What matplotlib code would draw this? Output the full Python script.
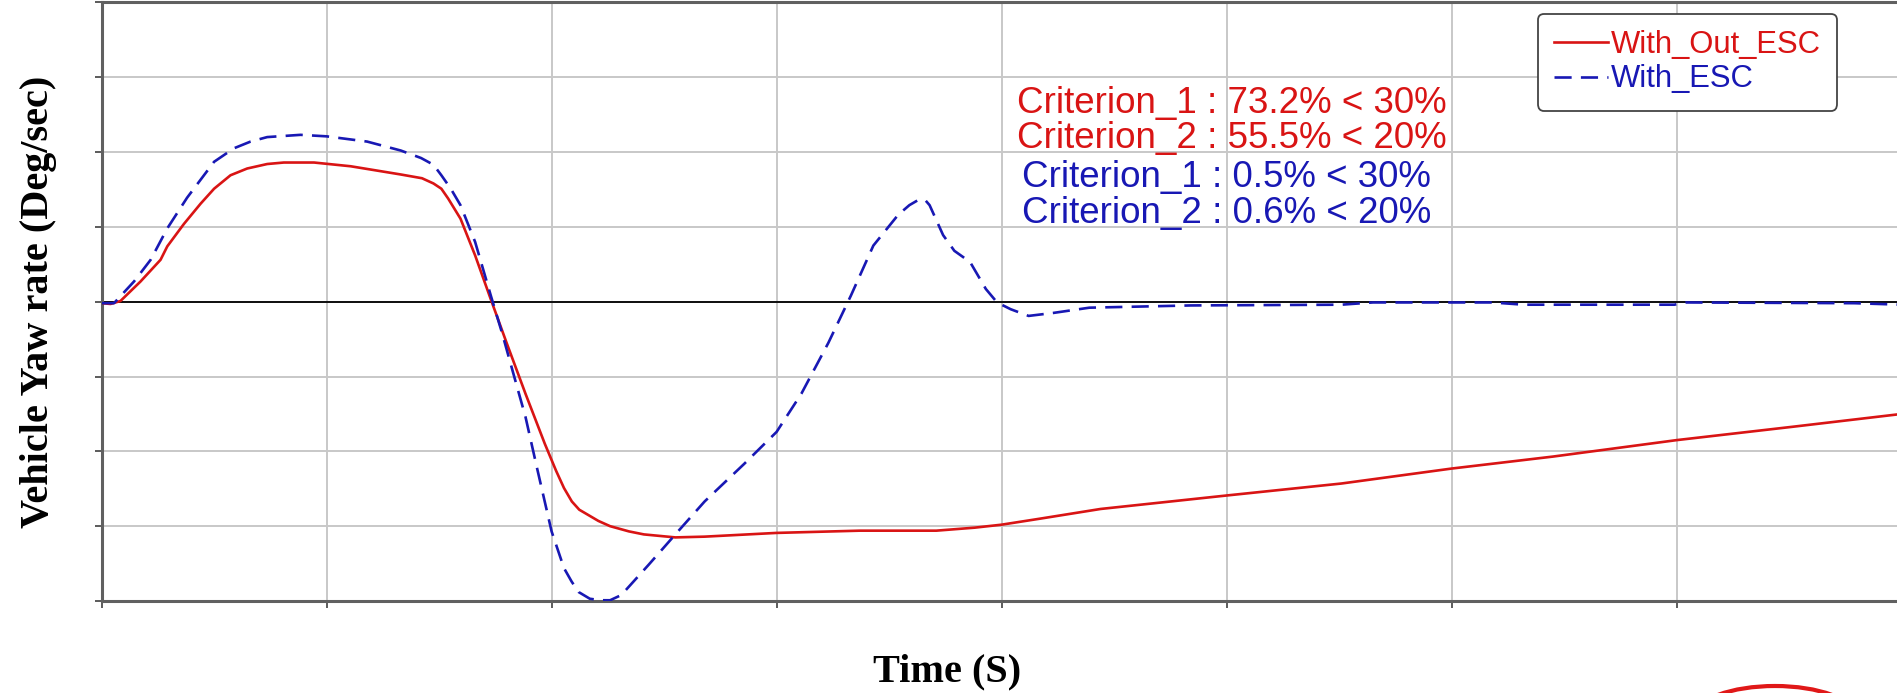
"""
Vehicle yaw rate response, with and without ESC.
Recreated as a static matplotlib figure.
"""
import matplotlib
matplotlib.use("Agg")
import matplotlib.pyplot as plt
from matplotlib.patches import Ellipse
from matplotlib.transforms import IdentityTransform

# ── Data ──────────────────────────────────────────────────────────────────
t_no_esc = [0, 0.04, 0.084, 0.173, 0.262, 0.292, 0.366, 0.44, 0.50, 0.573,
            0.647, 0.736, 0.81, 0.944, 1.107, 1.33, 1.424, 1.475, 1.51, 1.54,
            1.595, 1.66, 1.73, 1.80, 1.884, 1.97, 2.02, 2.055, 2.09, 2.123,
            2.157, 2.208, 2.26, 2.344, 2.41, 2.55, 2.68, 3.0, 3.37, 3.71,
            3.88, 4.0, 4.17, 4.44, 5.0, 5.51, 6.0, 6.45, 7.0, 7.52, 8.0]
yaw_no_esc = [-0.02, -0.03, 0.01, 0.27, 0.56, 0.74, 1.04, 1.31, 1.51, 1.69,
              1.78, 1.84, 1.86, 1.86, 1.81, 1.70, 1.65, 1.58, 1.51, 1.38,
              1.11, 0.62, 0.03, -0.55, -1.23, -1.90, -2.26, -2.49, -2.67, -2.78,
              -2.84, -2.93, -3.00, -3.07, -3.11, -3.15, -3.14, -3.09, -3.06, -3.06,
              -3.02, -2.98, -2.90, -2.77, -2.59, -2.43, -2.23, -2.07, -1.85, -1.67, -1.50]

t_esc = [0, 0.055, 0.144, 0.218, 0.292, 0.38, 0.44, 0.50, 0.588, 0.662,
         0.736, 0.884, 1.0, 1.18, 1.33, 1.42, 1.475, 1.51, 1.552, 1.595,
         1.66, 1.73, 1.78, 1.83, 1.884, 1.935, 2.0, 2.055, 2.089, 2.12,
         2.17, 2.22, 2.26, 2.31, 2.43, 2.55, 2.68, 2.855, 3.0, 3.11,
         3.23, 3.33, 3.43, 3.54, 3.59, 3.63, 3.66, 3.68, 3.74, 3.79,
         3.86, 3.93, 3.98, 4.04, 4.12, 4.23, 4.39, 4.84, 5.51, 5.65,
         6.18, 6.32, 6.99, 7.04, 7.79, 8.0]
yaw_esc = [-0.02, -0.02, 0.27, 0.56, 0.98, 1.39, 1.63, 1.87, 2.05, 2.14,
           2.20, 2.23, 2.21, 2.14, 2.02, 1.92, 1.83, 1.69, 1.51, 1.29,
           0.80, 0.08, -0.42, -0.96, -1.54, -2.22, -3.07, -3.56, -3.74, -3.88,
           -3.97, -3.99, -3.99, -3.92, -3.52, -3.11, -2.67, -2.17, -1.74, -1.23,
           -0.55, 0.08, 0.75, 1.16, 1.29, 1.36, 1.36, 1.29, 0.89, 0.68,
           0.53, 0.17, -0.01, -0.10, -0.19, -0.15, -0.08, -0.05, -0.04, -0.01,
           -0.01, -0.04, -0.04, -0.01, -0.02, -0.04]

x_ticks = [0, 1, 2, 3, 4, 5, 6, 7, 8]
y_ticks = [-4, -3, -2, -1, 0, 1, 2, 3, 4]

criteria_lines = ["Criterion_1 : 73.2% < 30%", "Criterion_2 : 55.5% < 20%",
                  "Criterion_1 : 0.5% < 30%", "Criterion_2 : 0.6% < 20%"]

RED = "#d91414"
BLUE = "#1818b4"
W, H = 1897, 693


def px(x, y):
    """Pixel position (from top-left) to figure fraction."""
    return x / W, 1 - y / H


# ── Figure ────────────────────────────────────────────────────────────────
fig = plt.figure(figsize=(W / 100, H / 100), dpi=100)
ax = fig.add_axes([101.6 / W, (H - 601) / H, 1800 / W, 598.6 / H])

ax.plot(t_no_esc, yaw_no_esc, color=RED, linewidth=1.9, label="With_Out_ESC", zorder=3)
ax.plot(t_esc, yaw_esc, color=BLUE, linewidth=1.9, linestyle=(0, (6.5, 3.5)),
        label="With_ESC", zorder=4)
ax.axhline(0, color="black", linewidth=1.3, zorder=2)

ax.set_xlim(0, 8)
ax.set_ylim(-4, 4)
ax.set_xticks(x_ticks)
ax.set_yticks(y_ticks)
ax.tick_params(labelbottom=False, labelleft=False, length=5, width=1.2,
               color="#404040", direction="out")
ax.grid(True, color="#c8c8c8", linewidth=1.4, zorder=0)

for side in ["left", "top", "bottom"]:
    ax.spines[side].set_color("#606060")
    ax.spines[side].set_linewidth(2.2)
ax.spines["right"].set_visible(False)

# ── Legend ────────────────────────────────────────────────────────────────
leg = ax.legend(loc="upper left", bbox_to_anchor=px(1538, 14),
                bbox_transform=fig.transFigure, borderaxespad=0,
                prop={"family": "Liberation Sans", "size": 22.3},
                handlelength=1.75, handletextpad=0.08, labelspacing=0.14,
                borderpad=0.52, fancybox=True, framealpha=1)
leg.get_frame().set_edgecolor("#444444")
leg.get_frame().set_linewidth(1.3)
for txt, col in zip(leg.get_texts(), [RED, BLUE]):
    txt.set_color(col)

# ── Criterion annotations ─────────────────────────────────────────────────
crit_pos = [(1017, 112.7), (1017, 148.3), (1022, 187.3), (1022, 223.3)]
crit_col = [RED, RED, BLUE, BLUE]
for line, (x, y), col in zip(criteria_lines, crit_pos, crit_col):
    fig.text(*px(x, y), line, color=col, fontsize=26.5, family="Liberation Sans",
             ha="left", va="baseline")

# ── Axis titles ───────────────────────────────────────────────────────────
fig.text(*px(947, 672), "Time (S)", fontsize=29, fontweight="bold",
         family="Liberation Serif", ha="center", va="center")
fig.text(*px(39, 302), "Vehicle Yaw rate (Deg/sec)", fontsize=29, fontweight="bold",
         family="Liberation Serif", ha="center", va="center", rotation=90)

# red marker ellipse, mostly cropped at the bottom-right edge
fig.add_artist(Ellipse((1775, -23), 160, 60, fill=False, edgecolor="#e01818",
                       linewidth=3, transform=IdentityTransform()))

fig.savefig("out.png", dpi=100)
plt.close(fig)
